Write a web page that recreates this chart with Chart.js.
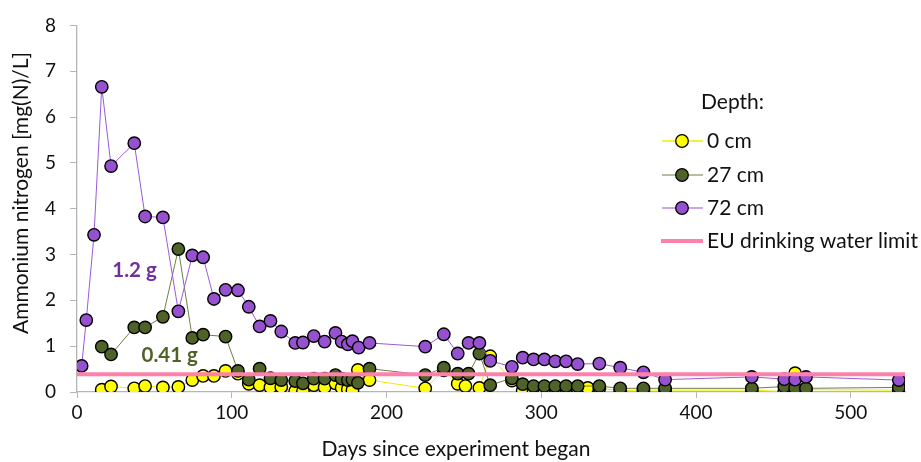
<!DOCTYPE html>
<html>
<head>
<meta charset="utf-8">
<script src="https://cdn.jsdelivr.net/npm/chart.js@4/dist/chart.umd.min.js"></script>
<style>
  html, body { margin: 0; padding: 0; background: #fff; }
  #wrap { width: 921px; height: 462px; }
</style>
</head>
<body>
<div id="wrap"><canvas id="c" width="921" height="462"></canvas></div>
<script>
// Ammonium nitrogen measured at three depths over the experiment
const depthLabels = ['0 cm', '27 cm', '72 cm'];

const days0 = [16, 22, 37, 44, 55.5, 65.5, 74.5, 81.5, 88.5, 96, 104, 111, 118, 125, 132, 141, 146, 153, 160, 167,
  171, 175, 178, 181.5, 189, 225, 237, 246, 251, 260, 267, 281, 288, 295, 302, 309, 316, 323.5, 330, 337.5,
  351, 366, 380, 436, 457, 464, 471, 531];
const nh4_0 = [0.05, 0.12, 0.08, 0.13, 0.10, 0.11, 0.26, 0.35, 0.35, 0.46, 0.40, 0.18, 0.15, 0.10, 0.11, 0.02, 0.02, 0.15, 0.10, 0.19,
  0.09, 0.06, 0.04, 0.48, 0.26, 0.08, 0.47, 0.18, 0.13, 0.09, 0.78, 0.25, 0.03, 0.03, 0.05, 0.08, 0.08, 0.07, 0.09, 0.08,
  0.03, 0.04, 0.04, 0.04, 0.01, 0.41, 0.05, 0.04];

const days27 = [16, 22, 37, 44, 55.5, 65.5, 74.5, 81.5, 96, 104, 111, 118, 125, 132, 141, 146, 153, 160, 167, 171,
  175, 178, 181.5, 189, 225, 237, 246, 253, 260, 267, 281, 288, 295, 302, 309, 316, 323.5, 337.5, 351, 366,
  380, 436, 457, 464, 471, 531];
const nh4_27 = [0.99, 0.82, 1.41, 1.41, 1.64, 3.12, 1.18, 1.25, 1.21, 0.46, 0.27, 0.51, 0.30, 0.26, 0.24, 0.19, 0.29, 0.29, 0.37, 0.29,
  0.26, 0.27, 0.20, 0.51, 0.37, 0.53, 0.40, 0.40, 0.84, 0.15, 0.30, 0.17, 0.13, 0.13, 0.13, 0.13, 0.13, 0.13, 0.08, 0.08,
  0.08, 0.08, 0.12, 0.08, 0.08, 0.10];

const days72 = [3, 6, 11, 16, 22, 37, 44, 55.5, 65.5, 74.5, 81.5, 88.5, 96, 104, 111, 118, 125, 132, 141, 146,
  153, 160, 167, 171, 175, 178, 182, 189, 225, 237, 246, 253, 260, 267, 281, 288, 295, 302, 309, 316,
  323.5, 337.5, 351, 366, 380, 436, 457, 464, 471, 531];
const nh4_72 = [0.57, 1.57, 3.43, 6.66, 4.93, 5.43, 3.83, 3.81, 1.76, 2.98, 2.94, 2.03, 2.23, 2.22, 1.86, 1.43, 1.55, 1.32, 1.07, 1.08,
  1.22, 1.10, 1.29, 1.10, 1.04, 1.11, 0.97, 1.07, 0.99, 1.26, 0.84, 1.07, 1.07, 0.68, 0.55, 0.75, 0.71, 0.71, 0.67, 0.67,
  0.61, 0.62, 0.53, 0.43, 0.27, 0.33, 0.28, 0.27, 0.33, 0.26];

// EU drinking water limit for ammonium, expressed as mg N per litre
const euLimit = 0.39;
const dayRange = [0, 535];

const xTitle = 'Days since experiment began';
const yTitle = 'Ammonium nitrogen [mg(N)/L]';
const legendTitle = 'Depth:';

// Amounts of nitrogen leached, written next to the curves
const amountNotes = [
  { text: '1.2 g', day: 37.2, value: 2.65, color: '#7030A0' },
  { text: '0.41 g', day: 59.9, value: 0.80, color: '#4F6228' }
];

const FONT = 'Lato, "Liberation Sans", sans-serif';
const TEXT = '#111';
const AXIS = '#B5B5B5';

function pts(xs, ys) { return xs.map((d, i) => ({ x: d, y: ys[i] })); }

const series = [
  { label: depthLabels[0], data: pts(days0, nh4_0), fill: '#FFFF00', line: '#EDED00', legendLine: '#EDED00' },
  { label: depthLabels[1], data: pts(days27, nh4_27), fill: '#4F6228', line: '#6E7F48', legendLine: '#9AA884' },
  { label: depthLabels[2], data: pts(days72, nh4_72), fill: '#9652CE', line: '#9A5AD8', legendLine: '#B98AE6' }
];
const limitStyle = { label: 'EU drinking water limit', color: '#FF80AA', width: 4 };

const datasets = series.map((s, i) => ({
  label: s.label,
  data: s.data,
  showLine: true,
  borderColor: s.line,
  borderWidth: 1,
  pointRadius: 6.2,
  pointBackgroundColor: s.fill,
  pointBorderColor: '#000',
  pointBorderWidth: 1.4,
  order: 3 - i,
  tension: 0
}));
datasets.push({
  label: limitStyle.label,
  data: [{ x: dayRange[0], y: euLimit }, { x: dayRange[1], y: euLimit }],
  showLine: true,
  borderColor: limitStyle.color,
  borderWidth: limitStyle.width,
  pointRadius: 0,
  order: 0
});

// Axis titles, notes and legend block drawn on top of the plot
const overlay = {
  id: 'overlay',
  afterDraw(chart) {
    const ctx = chart.ctx;
    const xs = chart.scales.x, ys = chart.scales.y;
    ctx.save();
    ctx.textBaseline = 'middle';
    ctx.textAlign = 'center';

    ctx.font = '21px ' + FONT;
    ctx.fillStyle = TEXT;
    ctx.fillText(xTitle, 456, 449);
    ctx.save();
    ctx.translate(21, 193);
    ctx.rotate(-Math.PI / 2);
    ctx.fillText(yTitle, 0, 0);
    ctx.restore();

    ctx.font = 'bold 20.5px ' + FONT;
    amountNotes.forEach(n => {
      ctx.fillStyle = n.color;
      ctx.fillText(n.text, xs.getPixelForValue(n.day), ys.getPixelForValue(n.value));
    });

    // legend
    ctx.textAlign = 'left';
    ctx.font = '21px ' + FONT;
    ctx.fillStyle = TEXT;
    ctx.fillText(legendTitle, 701, 102);
    const rowY = [141, 175, 208, 241];
    const x0 = 662, x1 = 703, mx = 682, tx = 707;
    series.forEach((s, i) => {
      const y = rowY[i];
      ctx.strokeStyle = s.legendLine;
      ctx.lineWidth = 1.3;
      ctx.beginPath(); ctx.moveTo(x0, y); ctx.lineTo(x1, y); ctx.stroke();
      ctx.beginPath(); ctx.arc(mx, y, 6.3, 0, Math.PI * 2);
      ctx.fillStyle = s.fill; ctx.fill();
      ctx.lineWidth = 1.3; ctx.strokeStyle = '#000'; ctx.stroke();
      ctx.fillStyle = TEXT;
      ctx.fillText(s.label, tx, y);
    });
    const yl = rowY[3];
    ctx.strokeStyle = limitStyle.color;
    ctx.lineWidth = limitStyle.width;
    ctx.beginPath(); ctx.moveTo(x0 - 1, yl); ctx.lineTo(x1, yl); ctx.stroke();
    ctx.fillStyle = TEXT;
    ctx.fillText(limitStyle.label, tx, yl);
    ctx.restore();
  }
};

new Chart(document.getElementById('c'), {
  type: 'scatter',
  data: { datasets },
  plugins: [overlay],
  options: {
    responsive: false,
    animation: false,
    layout: { padding: { top: 22, right: 16, left: 0, bottom: 0 } },
    plugins: { legend: { display: false }, tooltip: { enabled: false } },
    scales: {
      x: {
        type: 'linear',
        min: dayRange[0],
        max: dayRange[1],
        ticks: { stepSize: 100, includeBounds: false, color: TEXT, font: { family: FONT, size: 19 }, padding: 3 },
        grid: { drawOnChartArea: false, drawTicks: true, tickLength: 6, color: AXIS },
        border: { color: AXIS, width: 1.3 },
        afterFit(s) { s.height = 70; }
      },
      y: {
        min: 0,
        max: 8,
        ticks: { stepSize: 1, color: TEXT, font: { family: FONT, size: 19 }, padding: 14 },
        grid: { drawOnChartArea: false, drawTicks: true, tickLength: 7, color: AXIS },
        border: { color: AXIS, width: 1.3 },
        afterFit(s) { s.width = 77; }
      }
    }
  }
});
</script>
</body>
</html>
